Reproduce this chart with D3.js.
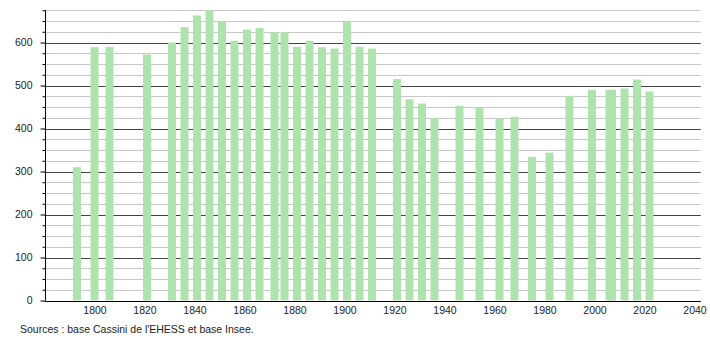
<!DOCTYPE html>
<html>
<head>
<meta charset="utf-8">
<script src="https://cdn.jsdelivr.net/npm/d3@7"></script>
<style>
  html, body { margin: 0; padding: 0; background: #fff; }
  svg text { font-family: "Liberation Sans", Arial, sans-serif; fill: #222; }
</style>
</head>
<body>
<div id="chart"></div>
<script>
// Années de recensement et population
const annees = [1793, 1800, 1806, 1821, 1831, 1836, 1841, 1846, 1851, 1856,
  1861, 1866, 1872, 1876, 1881, 1886, 1891, 1896, 1901, 1906, 1911,
  1921, 1926, 1931, 1936, 1946, 1954, 1962, 1968, 1975, 1982, 1990,
  1999, 2006, 2007, 2012, 2017, 2022];
const population = [310, 589, 590, 572, 600, 636, 663, 675, 650, 604,
  630, 634, 624, 624, 590, 604, 589, 586, 648, 590, 586,
  515, 468, 458, 424, 453, 449, 423, 427, 334, 344, 476,
  490, 490, 490, 493, 514, 486];
const xTicks = [1800, 1820, 1840, 1860, 1880, 1900, 1920, 1940, 1960, 1980, 2000, 2020, 2040];
const yTicks = [0, 100, 200, 300, 400, 500, 600];
const source = "Sources : base Cassini de l'EHESS et base Insee.";

const width = 710;
const height = 340;
const barW = 8;

const svg = d3.select('#chart')
  .append('svg')
  .attr('width', width)
  .attr('height', height);

const x = d3.scaleLinear().domain([1780, 2042.5]).range([44.5, 700.75]);
const y = d3.scaleLinear().domain([0, 675]).range([300.5, 10.25]);

// grille : traits fins tous les 25, traits foncés tous les 100
const minor = d3.range(25, 676, 25).filter(v => v % 100 !== 0);
svg.append('g')
  .selectAll('line')
  .data(minor)
  .join('line')
  .attr('x1', x.range()[0]).attr('x2', x.range()[1])
  .attr('y1', d => Math.round(y(d)) + 0.5).attr('y2', d => Math.round(y(d)) + 0.5)
  .attr('stroke', '#c8c8c8').attr('stroke-width', 1);

svg.append('g')
  .selectAll('line')
  .data(yTicks.filter(v => v > 0))
  .join('line')
  .attr('x1', x.range()[0]).attr('x2', x.range()[1])
  .attr('y1', d => Math.round(y(d)) + 0.5).attr('y2', d => Math.round(y(d)) + 0.5)
  .attr('stroke', '#444').attr('stroke-width', 1);

// barres
svg.append('g')
  .selectAll('rect')
  .data(annees.map((a, i) => ({ annee: a, pop: population[i] })))
  .join('rect')
  .attr('x', d => x(d.annee) - barW / 2)
  .attr('width', barW)
  .attr('y', d => y(d.pop))
  .attr('height', d => y(0) - y(d.pop))
  .attr('fill', '#aee3ae');

// axe Y
const yAxis = d3.axisLeft(y)
  .tickValues(d3.range(0, 676, 25))
  .tickSize(0)
  .tickFormat(d => yTicks.includes(d) ? d : '');
const gy = svg.append('g')
  .attr('transform', `translate(${Math.round(x.range()[0]) + 0.5},0)`)
  .call(yAxis);
gy.select('.domain').attr('stroke', '#000').attr('d', `M0,${y(675)}V${y(0)}`);
gy.selectAll('.tick line')
  .attr('x2', d => yTicks.includes(d) ? -5 : -3)
  .attr('stroke', '#000');
gy.selectAll('.tick text')
  .attr('x', -13)
  .attr('font-size', '10.5px')
  .attr('font-family', null);

// axe X
const xAxis = d3.axisBottom(x)
  .tickValues(xTicks)
  .tickSize(0)
  .tickPadding(5)
  .tickFormat(d3.format('d'));
const gx = svg.append('g')
  .attr('transform', `translate(0,${Math.round(y(0)) + 0.5})`)
  .call(xAxis);
gx.select('.domain').attr('stroke', '#000').attr('d', `M${x.range()[0]},0H${x.range()[1]}`);
gx.selectAll('.tick text')
  .attr('font-size', '10.5px')
  .attr('font-family', null);

svg.append('text')
  .attr('x', 20)
  .attr('y', 333)
  .attr('font-size', '10.5px')
  .text(source);
</script>
</body>
</html>
